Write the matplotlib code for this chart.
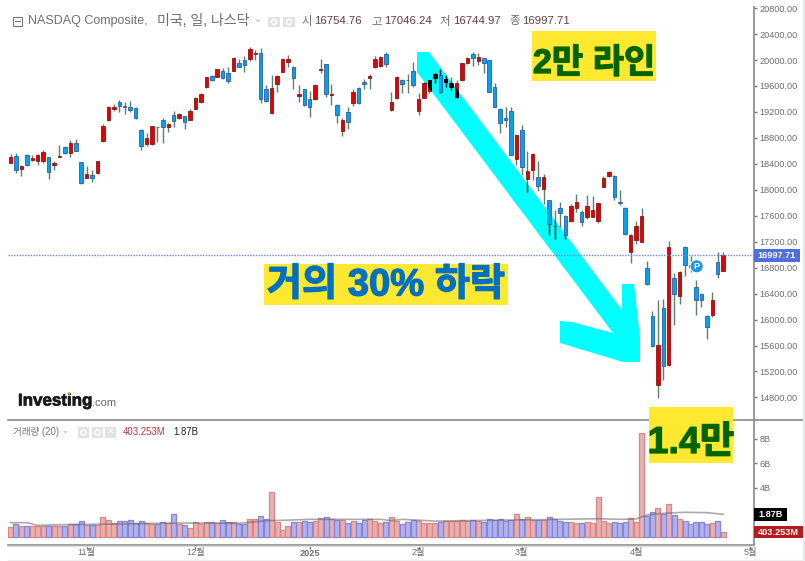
import numpy as np
import matplotlib
matplotlib.use('Agg')
import matplotlib.pyplot as plt
import matplotlib.patheffects as pe
from matplotlib.patches import Polygon, Rectangle, Circle
from matplotlib.transforms import blended_transform_factory

plt.rcParams['font.family'] = ['Liberation Sans', 'Noto Sans CJK KR', 'DejaVu Sans']

#%% values
opens = [18418,18516,18326,18536,18459,18449,18449,18500,18387,18511,18654,18572,18726,18423,18187,18223,18254,18757,19076,19250,
         19358,19286,19281,19261,18927,18711,18701,18968,19071,18963,19148,19107,19132,19076,19250,19353,19579,19759,19743,19826,
         19795,19836,19949,19995,20011,20098,20108,19559,19189,19636,19821,19970,19898,19451,19548,19404,19394,19841,19934,19466,
         19302,18901,19204,19343,19569,19656,19728,19892,19903,20088,19225,19420,19692,19692,19836,19214,19420,19528,19718,19769,
         19661,19589,19425,19692,19954,20093,19990,20026,19995,19579,19245,19107,19209,18475,18916,18172,18310,18202,18017,17838,
         17447,17714,17596,17519,17725,17663,17581,17581,17519,18048,18213,18213,17812,17725,17047,17221,17201,16789,16049,14986,
         16178,15299,16645,16363,17118,16835,16501,16398,16049,16070,16881,16755]
highs = [18552,18562,18382,18547,18531,18552,18618,18511,18444,18696,18675,18767,18778,18433,18367,18305,18449,19014,19291,19322,
         19384,19353,19363,19271,18937,18870,18988,18968,19107,19035,19209,19178,19142,19240,19435,19492,19743,19774,19867,19877,
         19887,20047,20011,20062,20201,20154,20180,19620,19764,19774,20031,20077,19908,19620,19559,19517,19630,20011,19944,19630,
         19322,19107,19271,19548,19579,19713,19785,20062,20062,20124,19507,19749,19713,19785,19970,19497,19661,19692,19795,19862,
         19769,19733,19692,19959,20041,20118,20113,20036,20005,19651,19255,19281,19271,18855,18993,18593,18572,18444,18243,17848,
         17689,17807,17612,17781,17930,17689,17920,17904,17802,18207,18285,18233,17997,17735,17319,17514,17714,16897,16126,16301,
         16311,17205,16722,16753,17128,16979,16609,16409,16065,16419,17035,17046]
lows = [18408,18264,18218,18372,18449,18387,18418,18161,18310,18511,18552,18511,18598,18089,18182,18120,18243,18737,19065,19220,
        19199,19168,19199,19086,18613,18675,18696,18737,18716,18891,18973,19096,18932,19071,19240,19343,19569,19682,19733,19713,
        19641,19826,19887,19815,19990,20000,19343,19353,19168,19512,19810,19898,19548,19353,19291,19127,19384,19795,19425,19312,
        19024,18829,18932,19291,19322,19548,19548,19882,19892,19898,19209,19404,19487,19487,19579,19148,19410,19497,19641,19487,
        19589,19538,19420,19682,19944,19908,19928,19795,19507,19271,18870,18973,18531,18382,18223,17971,18146,17987,17781,17303,
        17242,17432,17247,17509,17663,17442,17545,17576,17483,18038,18192,17843,17766,17298,16867,17165,17190,16537,15582,14796,
        15073,15289,15910,16234,16676,16737,16070,16188,15695,16044,16645,16745]
closes = [18500,18310,18367,18377,18490,18541,18577,18274,18413,18521,18562,18716,18603,18100,18238,18177,18439,18983,19271,19281,
          19291,19281,19225,19101,18680,18793,18978,18963,18963,19009,19055,19168,19050,19220,19410,19482,19733,19692,19857,19728,
          19682,20036,19892,19918,20170,20108,19394,19368,19569,19759,20021,20021,19718,19482,19302,19281,19620,19857,19482,19476,
          19158,19076,19040,19502,19333,19630,19759,20011,20041,19944,19348,19733,19630,19687,19615,19394,19646,19687,19785,19512,
          19708,19646,19641,19949,20026,20036,20047,19959,19512,19281,19029,19071,18536,18844,18351,18285,18552,18064,18202,17468,
          17437,17648,17308,17750,17807,17509,17745,17683,17791,18187,18274,17894,17802,17324,17298,17447,17596,16553,15587,15613,
          15279,17118,16388,16732,16835,16809,16306,16296,15880,16306,16707,16998]
# volume in billions
volumes = [.81,1.11,.95,.95,.95,.95,.89,.95,.89,.89,.95,1.08,1.05,1.30,.97,.97,1.00,1.62,1.41,1.19,
           1.30,1.30,1.38,1.19,1.30,1.19,1.05,1.05,1.22,1.16,1.86,1.05,.97,.73,1.22,1.08,1.22,1.22,1.16,1.43,
           1.27,1.27,1.08,1.08,1.49,1.49,1.76,1.46,3.65,1.22,.62,.95,1.22,1.22,1.30,1.22,1.32,1.54,1.62,1.46,
           1.43,1.38,1.16,1.30,1.14,1.38,1.46,1.32,1.16,1.24,1.62,1.32,1.08,1.24,1.41,1.30,1.16,1.14,1.14,1.24,
           1.30,1.30,1.30,1.38,1.30,1.41,1.30,1.24,1.49,1.41,1.49,1.32,1.41,1.86,1.49,1.62,1.41,1.41,1.41,1.62,
           1.49,1.32,1.22,1.22,1.14,1.14,1.22,1.14,3.27,1.30,1.16,1.22,1.16,1.22,1.54,1.24,8.43,1.73,2.08,2.35,
           1.92,2.68,1.78,1.49,1.30,1.08,1.27,1.22,1.08,1.14,1.35,.403]
ma_days = [0,3,5,10,20,30,42,47,50,55,68,70,72,78,97,108,112,115,117,120,124,128,131]
ma_vals = [1.19,1.19,.97,1.03,1.08,1.16,1.14,1.35,1.38,1.46,1.46,1.35,1.46,1.32,1.43,1.51,1.46,1.49,1.81,1.95,2.03,2.00,1.87]

price_ticks = list(range(14800, 20801, 400))
vol_ticks = [4, 6, 8]
month_pos = [14, 34, 55, 75, 94, 115, 136]
month_labels = ['11월', '12월', '2025', '2월', '3월', '4월', '5월']
last_close = 16997.71

gray = '#6e6e6e'
wick_c = '#5f8070'
days = np.arange(len(opens))
o, h, l, c = map(np.array, (opens, highs, lows, closes))
up = c >= o

#%% layout, everything placed in screen pixels of the 805x561 picture
W, H = 805, 561
fig = plt.figure(figsize=(W/100, H/100), dpi=100)
def box(x0, y0, x1, y1, **kw):
    return fig.add_axes([x0/W, 1-y1/H, (x1-x0)/W, (y1-y0)/H], **kw)

back = box(0, 0, W, H, zorder=0)
ax = box(8, 7, 754, 419.5, zorder=1)
vax = box(8, 420, 754, 545, zorder=1)
top = box(0, 0, W, H, zorder=3)
for a in (back, top):
    a.set_xlim(0, W); a.set_ylim(H, 0); a.axis('off')
ax.patch.set_alpha(0); vax.patch.set_alpha(0)
xlim = ((8-10.5)/5.44, (754-10.5)/5.44)

#%% big cyan arrow, sits under the candles
arrow_pts = [(417,52),(429,52),(622,310),(622,284),(634,284),(640,337),(640,362),(623,362),
             (560,343),(560,321),(572,322),(613,333),(417,72)]
arrow = Polygon(arrow_pts, closed=True, fc='#00ffff', ec='none')
back.add_patch(arrow)

#%% candles
body = np.abs(c-o)
bottom = np.minimum(o, c)
ax.vlines(days, l, h, color=wick_c, lw=1, zorder=2)
ax.bar(days[up], body[up], 0.64, bottom[up], color='#e60000', edgecolor='#8a1515', lw=0.6, zorder=3)
ax.bar(days[~up], body[~up], 0.64, bottom[~up], color='#05a0f5', edgecolor='#2a5f9e', lw=0.6, zorder=3)
# red on the cyan arrow goes black in the original
dark_w = ax.vlines(days, l, h, color='#10303a', lw=1, zorder=2.5)
dark_w.set_clip_path(arrow)
for b in ax.bar(days[up], body[up], 0.64, bottom[up], color='black', edgecolor='black', lw=0.6, zorder=4):
    b.set_clip_path(arrow)

ax.axhline(last_close, color='#6f86e0', lw=1, ls=(0, (1, 1)), zorder=5)
ax.set_xlim(xlim)
ax.set_ylim(14460, 20817)
ax.set_yticks(price_ticks)
ax.set_yticklabels(['%.2f' % p for p in price_ticks])
ax.yaxis.tick_right()
ax.tick_params(axis='y', length=2.5, width=1, color='#777', labelsize=6.6, labelcolor=gray, pad=1.5)
ax.set_xticks([])
for s in ('top', 'left', 'bottom'):
    ax.spines[s].set_visible(False)
ax.spines['right'].set_color('#9c9c9c')
ax.spines['right'].set_linewidth(1.5)

#%% volume
vols = np.array(volumes)
vax.bar(days[up], vols[up], 0.92, color='#e8b0b0', edgecolor='#d98787', lw=0.9, zorder=2)
vax.bar(days[~up], vols[~up], 0.92, color='#b2b2e8', edgecolor='#8585dc', lw=0.9, zorder=2)
vax.plot(ma_days, ma_vals, color='#666666', alpha=0.55, lw=1.2, zorder=3)
vax.set_xlim(xlim)
vax.set_ylim(-0.62, 9.51)
vax.set_yticks(vol_ticks)
vax.set_yticklabels(['%dB' % v for v in vol_ticks])
vax.yaxis.tick_right()
vax.tick_params(axis='y', length=2.5, width=1, color='#777', labelsize=6.6, labelcolor=gray, pad=1.5)
vax.set_xticks(month_pos)
vax.set_xticklabels([])
vax.tick_params(axis='x', length=3, width=1, color='#777')
for s in ('top', 'left'):
    vax.spines[s].set_visible(False)
vax.spines['right'].set_color('#9c9c9c')
vax.spines['right'].set_linewidth(1.5)
vax.spines['bottom'].set_color('#8c8c8c')
vax.spines['bottom'].set_linewidth(1.2)

# month labels, x from the volume axis, y in pixels; the last one is cut by the price axis
clip_r = Rectangle((0, 0), 753, H, transform=top.transData)
month_tr = blended_transform_factory(vax.transData, top.transData)
for p, lab in zip(month_pos, month_labels):
    t = top.text(p, 553, lab, transform=month_tr, ha='center', va='center', fontsize=6.6,
                 color=gray, fontweight='bold' if lab == '2025' else 'normal')
    t.set_clip_path(clip_r)

#%% frame lines
top.plot([8, W], [419.6, 419.6], color='#8c8c8c', lw=1.2, zorder=1)
top.plot([8, 754], [546, 546], color='#dedede', lw=1, zorder=1)
top.plot([803.5, 803.5], [0, H], color='#e6e8f2', lw=1.5, zorder=1)
top.plot([8, W], [560, 560], color='#eeeeee', lw=1, zorder=1)

#%% header
def icon(x, y, w, h, glyph=True):
    top.add_patch(Rectangle((x, y), w, h, fc='#e2e2e2', ec='none'))
    if glyph:
        top.add_patch(Circle((x+w/2, y+h/2), 2.6, fc='none', ec='white', lw=1))

top.add_patch(Rectangle((12.5, 16.5), 9.5, 9.5, fc='none', ec='#777', lw=0.8))
top.plot([14.5, 20], [21.2, 21.2], color='#777', lw=0.8)
top.text(27.5, 21, 'NASDAQ Composite,', fontsize=9.0, color=gray, va='center', ha='left')
top.text(157, 21, '미국, 일, 나스닥', fontsize=10.1, color=gray, va='center', ha='left')
top.add_patch(Polygon([(255, 19.5), (261, 19.5), (258, 22.5)], fc='#cfcfcf', ec='none'))
icon(268, 17, 12, 10)
icon(283, 17, 12, 10)
for x, x2, name, val in [(302, 314, '시', '16754.76'), (371, 384, '고', '17046.24'),
                         (440, 453, '저', '16744.97'), (509, 522, '종', '16997.71')]:
    top.text(x, 21, name, fontsize=8.2, color=gray, va='center', ha='left')
    top.text(x2, 21, val, fontsize=8.2, color='#6b3b3b', va='center', ha='left')

top.text(13, 432, '거래량 (20)', fontsize=6.9, color='#777', va='center', ha='left')
top.add_patch(Polygon([(63, 431), (68, 431), (65.5, 433.5)], fc='#cfcfcf', ec='none'))
icon(78, 427, 11, 11)
icon(92, 427, 11, 11)
icon(105, 427, 11, 11, glyph=False)
top.text(110.5, 432.5, '✕', fontsize=6.5, color='white', ha='center', va='center', family='DejaVu Sans')
top.text(123, 432, '403.253M', fontsize=6.9, color='#c0363a', va='center', ha='left')
top.text(173, 432, '1.87B', fontsize=6.9, color='#222222', va='center', ha='left')

#%% logo
top.text(18, 401, 'Investing', fontsize=12.2, fontweight='bold', color='#1a1a1a', va='center', ha='left',
         path_effects=[pe.withStroke(linewidth=0.5, foreground='#1a1a1a')])
top.text(92, 403, '.com', fontsize=8, color='#666', va='center', ha='left')
top.add_patch(Circle((69, 393.5), 1.3, fc='#f0a030', ec='none', zorder=5))

#%% price and volume flags
def flag(y0, y1, x1, col, txt):
    top.add_patch(Rectangle((754, y0), x1-754, y1-y0, fc=col, ec='none', zorder=4))
    top.text((754+x1)/2, (y0+y1)/2, txt, fontsize=6.6, fontweight='bold', color='white',
             ha='center', va='center', zorder=5)

flag(249, 261.7, 800, '#4f6fe0', '16997.71')
flag(508.3, 520.7, 786.7, '#000000', '1.87B')
flag(526, 538.3, 803, '#b71c1c', '403.253M')

top.add_patch(Circle((696.7, 266.3), 6.5, fc='#1e96f0', ec='white', lw=0.6, zorder=4))
top.text(696.7, 266.5, 'P', fontsize=6.5, fontweight='bold', color='white', ha='center', va='center', zorder=5)

#%% yellow notes pasted on top
def note(x0, y0, x1, y1, txt, col, size, dy):
    top.add_patch(Rectangle((x0, y0), x1-x0, y1-y0, fc='#ffe930', ec='none', zorder=6))
    top.text((x0+x1)/2, (y0+y1)/2+dy, txt, fontsize=size, fontweight='bold', color=col, ha='center',
             va='center', zorder=7, family=['Liberation Sans', 'Noto Sans CJK KR'],
             path_effects=[pe.withStroke(linewidth=0.9, foreground=col)])

note(532, 31, 656, 81, '2만 라인', '#006400', 24.5, 8)
note(264, 264, 508, 305, '거의 30% 하락', '#0070c0', 27.5, 1)
note(649, 407, 733, 463, '1.4만', '#006400', 27, 8)

fig.savefig('out.png', dpi=100)
